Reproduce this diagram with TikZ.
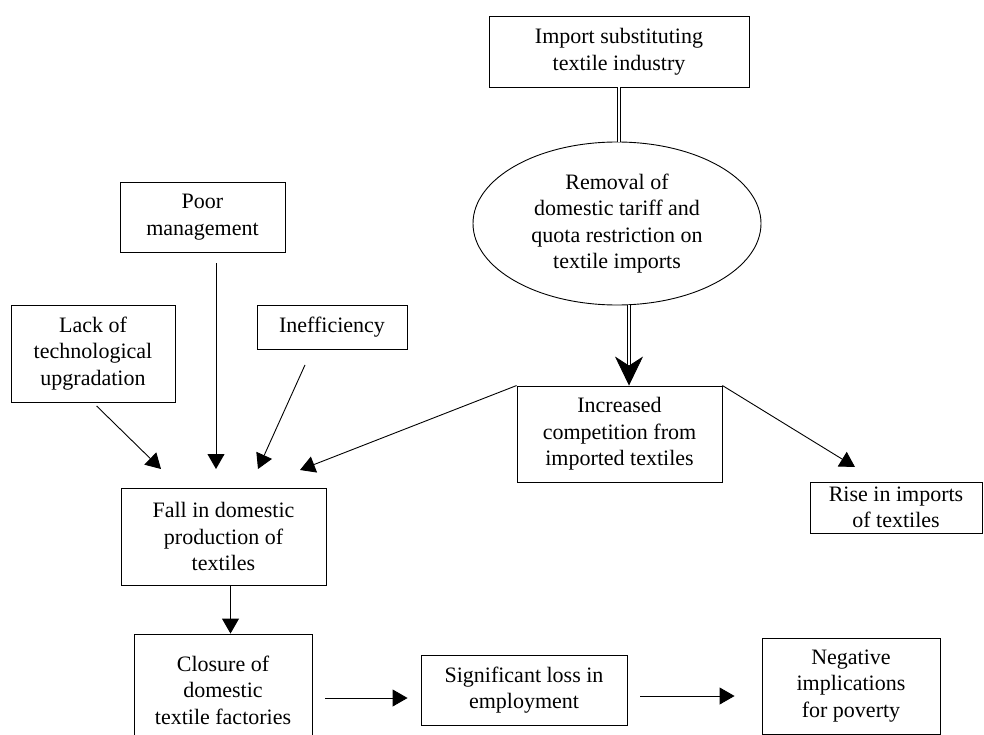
\documentclass[tikz,border=0pt]{standalone}
\usepackage{fontspec}
\setmainfont{Liberation Serif}
\usetikzlibrary{arrows.meta,shapes.geometric}

\tikzset{
  box/.style={draw,rectangle,align=center,inner sep=0pt,line width=0.9pt},
  oval/.style={draw,ellipse,align=center,inner sep=0pt,line width=0.9pt},
  arr/.style={line width=0.9pt,-{Triangle[length=15pt,width=17pt]}},
  dbl/.style={double,double distance=2.2pt,line width=0.8pt},
}

\begin{document}
\begin{tikzpicture}
  \useasboundingbox (0pt,0pt) rectangle (984pt,-735pt);
  \fontsize{22}{26.5}\selectfont

  %% top chain
  \node[box,minimum width=260pt,minimum height=71pt] (imp) at (619pt,-51.5pt)
    {Import substituting\\textile industry};
  \node[oval,minimum width=288pt,minimum height=163pt] (remov) at (617pt,-223.5pt)
    {Removal of\\domestic tariff and\\quota restriction on\\textile imports};
  \node[box,minimum width=205pt,minimum height=96pt] (incr) at (619.5pt,-434pt)
    {Increased\\competition from\\imported textiles};
  \node[box,minimum width=172pt,minimum height=51pt] (rise) at (896pt,-507.5pt)
    {Rise in imports\\of textiles};

  %% causes
  \node[box,minimum width=165pt,minimum height=70pt] (poor) at (202.5pt,-217pt)
    {Poor\\management};
  \node[box,minimum width=164pt,minimum height=97pt] (lack) at (93pt,-353.5pt)
    {Lack of\\technological\\upgradation};
  \node[box,minimum width=150pt,minimum height=44pt] (ineff) at (332pt,-327pt)
    {Inefficiency};

  %% effects
  \node[box,minimum width=205pt,minimum height=97pt] (fall) at (223.5pt,-536.5pt)
    {Fall in domestic\\production of\\textiles};
  \node[box,minimum width=178pt,minimum height=112pt] (clos) at (223pt,-690pt)
    {Closure of\\domestic\\textile factories};
  \node[box,minimum width=206pt,minimum height=70pt] (sig) at (524pt,-690pt)
    {Significant loss in\\employment};
  \node[box,minimum width=178pt,minimum height=96pt] (neg) at (851pt,-686pt)
    {Negative\\implications\\for poverty};

  %% arrow tips
  \coordinate (tipL) at (161pt,-469pt);
  \coordinate (tipP) at (216pt,-469pt);
  \coordinate (tipI) at (258pt,-469pt);
  \coordinate (tipC) at (300pt,-470pt);
  \coordinate (tipR) at (855pt,-467pt);

  %% double connectors
  \draw[dbl] (imp.south) -- (imp.south |- remov.north);
  \draw[dbl,-{Stealth[length=29pt,width=28pt,inset=9pt]}]
    ([xshift=12pt]remov.south) -- ([xshift=12pt]remov.south |- incr.north);

  %% into the fall
  \draw[arr,shorten <=5pt] (lack.south) -- (tipL);
  \draw[arr,shorten <=11pt] (tipP |- poor.south) -- (tipP);
  \draw[arr,shorten <=17pt] ([xshift=-20pt]ineff.south) -- (tipI);
  \draw[arr] (incr.north west) -- (tipC);
  \draw[arr] (incr.north east) -- (tipR);

  %% bottom chain
  \draw[arr] ([xshift=7pt]fall.south) -- ([xshift=7pt]fall.south |- clos.north);
  \draw[arr,shorten <=13pt,shorten >=13pt] ([yshift=-8pt]clos.east) -- ([yshift=-8pt]clos.east -| sig.west);
  \draw[arr,shorten <=13pt,shorten >=27pt] ([yshift=-6pt]sig.east) -- ([yshift=-6pt]sig.east -| neg.west);

\end{tikzpicture}
\end{document}
